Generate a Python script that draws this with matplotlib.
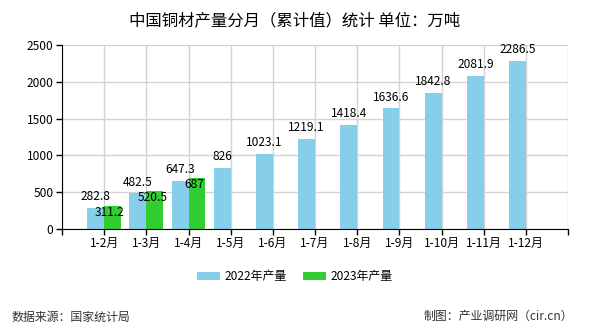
import matplotlib
matplotlib.use("Agg")
import matplotlib.pyplot as plt
import numpy as np

plt.rcParams['font.family'] = ['Noto Sans CJK SC', 'DejaVu Sans']

categories = ["1-2月", "1-3月", "1-4月", "1-5月", "1-6月", "1-7月", "1-8月", "1-9月", "1-10月", "1-11月", "1-12月"]
values_2022 = [282.8, 482.5, 647.3, 826, 1023.1, 1219.1, 1418.4, 1636.6, 1842.8, 2081.9, 2286.5]
values_2023 = [311.2, 520.5, 687]
series_names = ["2022年产量", "2023年产量"]
yticks = [0, 500, 1000, 1500, 2000, 2500]

FS = 8.6

fig = plt.figure(figsize=(5.9, 3.3), dpi=100)
ax = fig.add_axes([0.105, 0.306, 0.858, 0.558])

x = np.arange(len(categories))
w = 0.4
b1 = ax.bar(x[:len(values_2022)] - w / 2, values_2022, width=w, color="#87CEEB", label=series_names[0], zorder=2)
b2 = ax.bar(x[:len(values_2023)] + w / 2, values_2023, width=w, color="#32CD32", label=series_names[1], zorder=2)

for rect, v in zip(b1, values_2022):
    ax.annotate(f"{v:g}", (rect.get_x() + rect.get_width() / 2, v), xytext=(0, 3.5),
                textcoords="offset points", ha="center", va="bottom", fontsize=FS, zorder=4)
for rect, v in zip(b2, values_2023):
    ax.annotate(f"{v:g}", (rect.get_x() + rect.get_width() / 2 - 0.06, v), xytext=(0, 0),
                textcoords="offset points", ha="center", va="top", fontsize=FS, zorder=4)

ax.set_xlim(-1, len(categories))
ax.set_ylim(0, 2500)
ax.set_yticks(yticks)
ax.set_yticklabels([str(t) for t in yticks], fontsize=FS)
ax.set_xticks(list(range(-1, len(categories) + 1)))
ax.set_xticklabels([""] + categories + [""], fontsize=FS)
ax.tick_params(axis="both", length=4, width=1, color="black", pad=2)
ax.grid(True, color="#d3d3d3", linewidth=1, zorder=0)
ax.set_axisbelow(True)
for s in ["top", "right"]:
    ax.spines[s].set_visible(False)
ax.spines["left"].set_color("black")
ax.spines["bottom"].set_color("black")

fig.text(0.5, 0.938, "中国铜材产量分月（累计值）统计 单位：万吨", ha="center", va="center", fontsize=11.8)
fig.legend(handles=[b1, b2], loc="center", bbox_to_anchor=(0.5, 0.161), ncol=2, frameon=False,
           fontsize=FS, handlelength=1.9, handleheight=0.6, columnspacing=1.4, handletextpad=0.4)
fig.text(0.02, 0.040, "数据来源：国家统计局", ha="left", va="center", fontsize=FS, color="#333333")
fig.text(0.971, 0.040, "制图：产业调研网（cir.cn）", ha="right", va="center", fontsize=FS, color="#333333")

fig.savefig("out.png", dpi=100)
